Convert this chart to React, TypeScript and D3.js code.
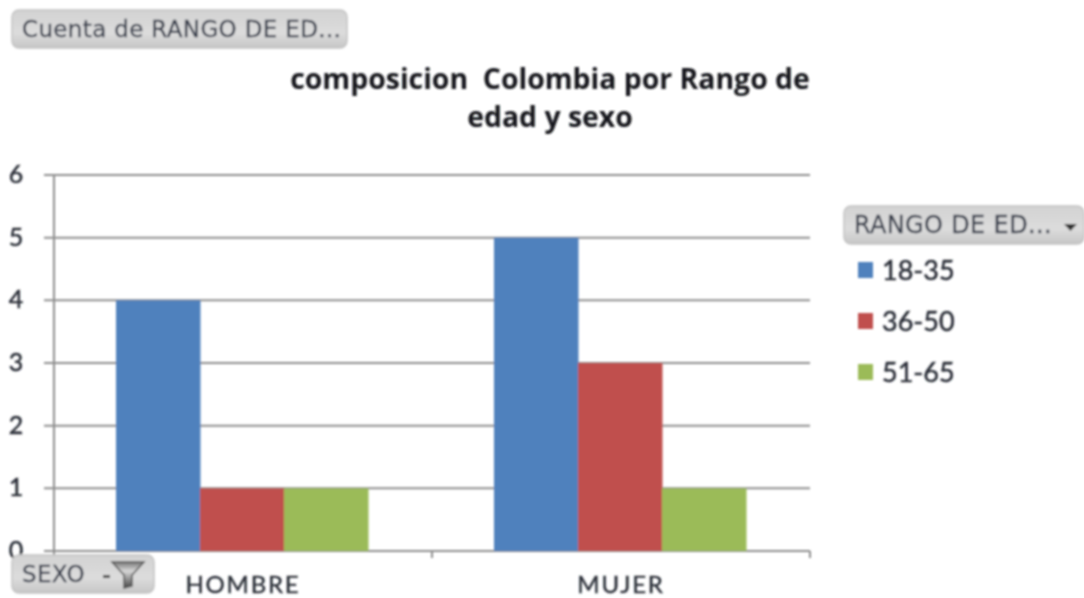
import { useEffect, useRef } from 'react';
import * as d3 from 'd3';

const categories = ['HOMBRE', 'MUJER'];
const seriesNames = ['18-35', '36-50', '51-65'];
const seriesColors = ['#4f81bd', '#c0504d', '#9bbb59'];
const values18to35 = [4, 5];
const values36to50 = [1, 3];
const values51to65 = [1, 1];
const allValues = [values18to35, values36to50, values51to65];
const yTicks = [0, 1, 2, 3, 4, 5, 6];
const titleLines = ['composicion  Colombia por Rango de', 'edad y sexo'];

const FONT = 'Lato, "Open Sans", sans-serif';
const BUTTON_FONT = '"DejaVu Sans", sans-serif';
const TITLE_FONT = '"Open Sans", sans-serif';

function fieldButton(svg: any, x: number, y: number, w: number, h: number, label: string, size: number) {
  svg.append('rect')
    .attr('x', x).attr('y', y).attr('width', w).attr('height', h)
    .attr('rx', 7)
    .attr('fill', 'url(#btn)')
    .attr('stroke', '#c4c4c4')
    .attr('stroke-width', 1.5);
  svg.append('text')
    .attr('x', x + 10)
    .attr('y', y + h / 2 + size * 0.35)
    .attr('font-family', BUTTON_FONT)
    .attr('font-size', size)
    .attr('letter-spacing', 0.35)
    .attr('fill', '#3c4250')
    .attr('stroke', '#3c4250')
    .attr('stroke-width', 0.3)
    .text(label);
}

export default function App() {
  const svgRef = useRef<SVGSVGElement>(null);

  useEffect(() => {
    const root = d3.select(svgRef.current);
    root.selectAll('*').remove();

    const defs = root.append('defs');
    defs.append('filter').attr('id', 'soft')
      .append('feGaussianBlur').attr('stdDeviation', 0.8);
    const grad = defs.append('linearGradient').attr('id', 'btn')
      .attr('x1', 0).attr('y1', 0).attr('x2', 0).attr('y2', 1);
    grad.append('stop').attr('offset', '0%').attr('stop-color', '#d2d2d2');
    grad.append('stop').attr('offset', '60%').attr('stop-color', '#dcdcdc');
    grad.append('stop').attr('offset', '100%').attr('stop-color', '#c6c6c6');
    const funnel = defs.append('linearGradient').attr('id', 'funnel')
      .attr('x1', 0).attr('y1', 0).attr('x2', 0).attr('y2', 1);
    funnel.append('stop').attr('offset', '0%').attr('stop-color', '#777');
    funnel.append('stop').attr('offset', '35%').attr('stop-color', '#d8d8d8');
    funnel.append('stop').attr('offset', '100%').attr('stop-color', '#444');

    const svg = root.append('g')
      .attr('filter', 'url(#soft)')
      .attr('font-family', FONT);

    const left = 54;
    const right = 810;
    const top = 175;
    const bottom = 551;

    // the bars sit about a pixel left of the axis bands in the picture
    const x = d3.scaleBand().domain(categories).range([left - 1, right - 1]).paddingInner(1 / 3).paddingOuter(1 / 6);
    const xStep = d3.scaleBand().domain(categories).range([left, right]);
    const x1 = d3.scaleBand().domain(seriesNames).range([0, x.bandwidth()]);
    const y = d3.scaleLinear().domain([0, 6]).range([bottom, top]);

    // gridlines + tick marks
    svg.append('g').selectAll('line')
      .data(yTicks)
      .join('line')
      .attr('x1', left - 10)
      .attr('x2', right)
      .attr('y1', d => y(d))
      .attr('y2', d => y(d))
      .attr('stroke', '#8e8e8e')
      .attr('stroke-width', 2);

    svg.append('line')
      .attr('x1', left).attr('x2', left)
      .attr('y1', top).attr('y2', bottom)
      .attr('stroke', '#8e8e8e')
      .attr('stroke-width', 2);

    // bars
    seriesNames.forEach((name, s) => {
      svg.append('g').selectAll('rect')
        .data(allValues[s])
        .join('rect')
        .attr('x', (_, i) => (x(categories[i]) as number) + (x1(name) as number))
        .attr('y', d => y(d))
        .attr('width', x1.bandwidth() + 0.5)
        .attr('height', d => y(0) - y(d))
        .attr('fill', seriesColors[s]);
    });

    // x axis ticks
    const xTickPos = [left, (xStep('MUJER') as number), right];
    svg.append('g').selectAll('line')
      .data(xTickPos)
      .join('line')
      .attr('x1', d => d).attr('x2', d => d)
      .attr('y1', bottom).attr('y2', bottom + 7)
      .attr('stroke', '#8e8e8e')
      .attr('stroke-width', 2);

    // y labels
    svg.append('g').selectAll('text')
      .data(yTicks)
      .join('text')
      .attr('x', 16)
      .attr('y', d => y(d) + 8)
      .attr('text-anchor', 'middle')
      .attr('font-size', 25)
      .attr('fill', '#2b2f38')
      .attr('stroke', '#2b2f38')
      .attr('stroke-width', 0.5)
      .text(d => d);

    // x labels
    svg.append('g').selectAll('text')
      .data(categories)
      .join('text')
      .attr('x', d => (xStep(d) as number) + xStep.bandwidth() / 2)
      .attr('y', 593)
      .attr('text-anchor', 'middle')
      .attr('font-size', 24)
      .attr('letter-spacing', 1.8)
      .attr('fill', '#2b2f38')
      .attr('stroke', '#2b2f38')
      .attr('stroke-width', 0.4)
      .text(d => d);

    // title
    svg.append('g').selectAll('text')
      .data(titleLines)
      .join('text')
      .attr('x', 550)
      .attr('y', (_, i) => 89 + i * 38)
      .attr('text-anchor', 'middle')
      .attr('font-family', TITLE_FONT)
      .attr('font-size', 28.4)
      .attr('font-weight', 700)
      .attr('fill', '#16181d')
      .style('white-space', 'pre')
      .text(d => d);

    // pivot field buttons
    fieldButton(svg, 12, 10, 335, 38, 'Cuenta de RANGO DE ED...', 23);
    fieldButton(svg, 844, 206, 240, 38, 'RANGO DE ED...', 24);
    fieldButton(svg, 12, 555, 142, 38, 'SEXO', 23);

    // dropdown arrow + filter icon
    svg.append('path').attr('d', 'M1064 224h13l-6.5 7z').attr('fill', '#333');
    svg.append('path').attr('d', 'M103 575h7v3h-7z').attr('fill', '#444');
    svg.append('path')
      .attr('d', 'M112 562h32l-12 13v11l-8 2v-13z')
      .attr('fill', 'url(#funnel)')
      .attr('stroke', '#555')
      .attr('stroke-width', 1.5);

    // legend
    const legendY = d3.scalePoint().domain(seriesNames).range([270, 372]);
    const legend = svg.append('g').selectAll('g')
      .data(seriesNames)
      .join('g')
      .attr('transform', d => `translate(858,${legendY(d)})`);
    legend.append('rect')
      .attr('x', 0).attr('y', -8)
      .attr('width', 15).attr('height', 16)
      .attr('fill', (_, i) => seriesColors[i]);
    legend.append('text')
      .attr('x', 24).attr('y', 10)
      .attr('font-size', 27)
      .attr('fill', '#2b2f38')
      .attr('stroke', '#2b2f38')
      .attr('stroke-width', 0.5)
      .text(d => d);
  }, []);

  return (
    <svg
      ref={svgRef}
      width={1084}
      height={598}
      style={{ position: 'absolute', left: 0, top: 0, background: '#fff' }}
    />
  );
}
